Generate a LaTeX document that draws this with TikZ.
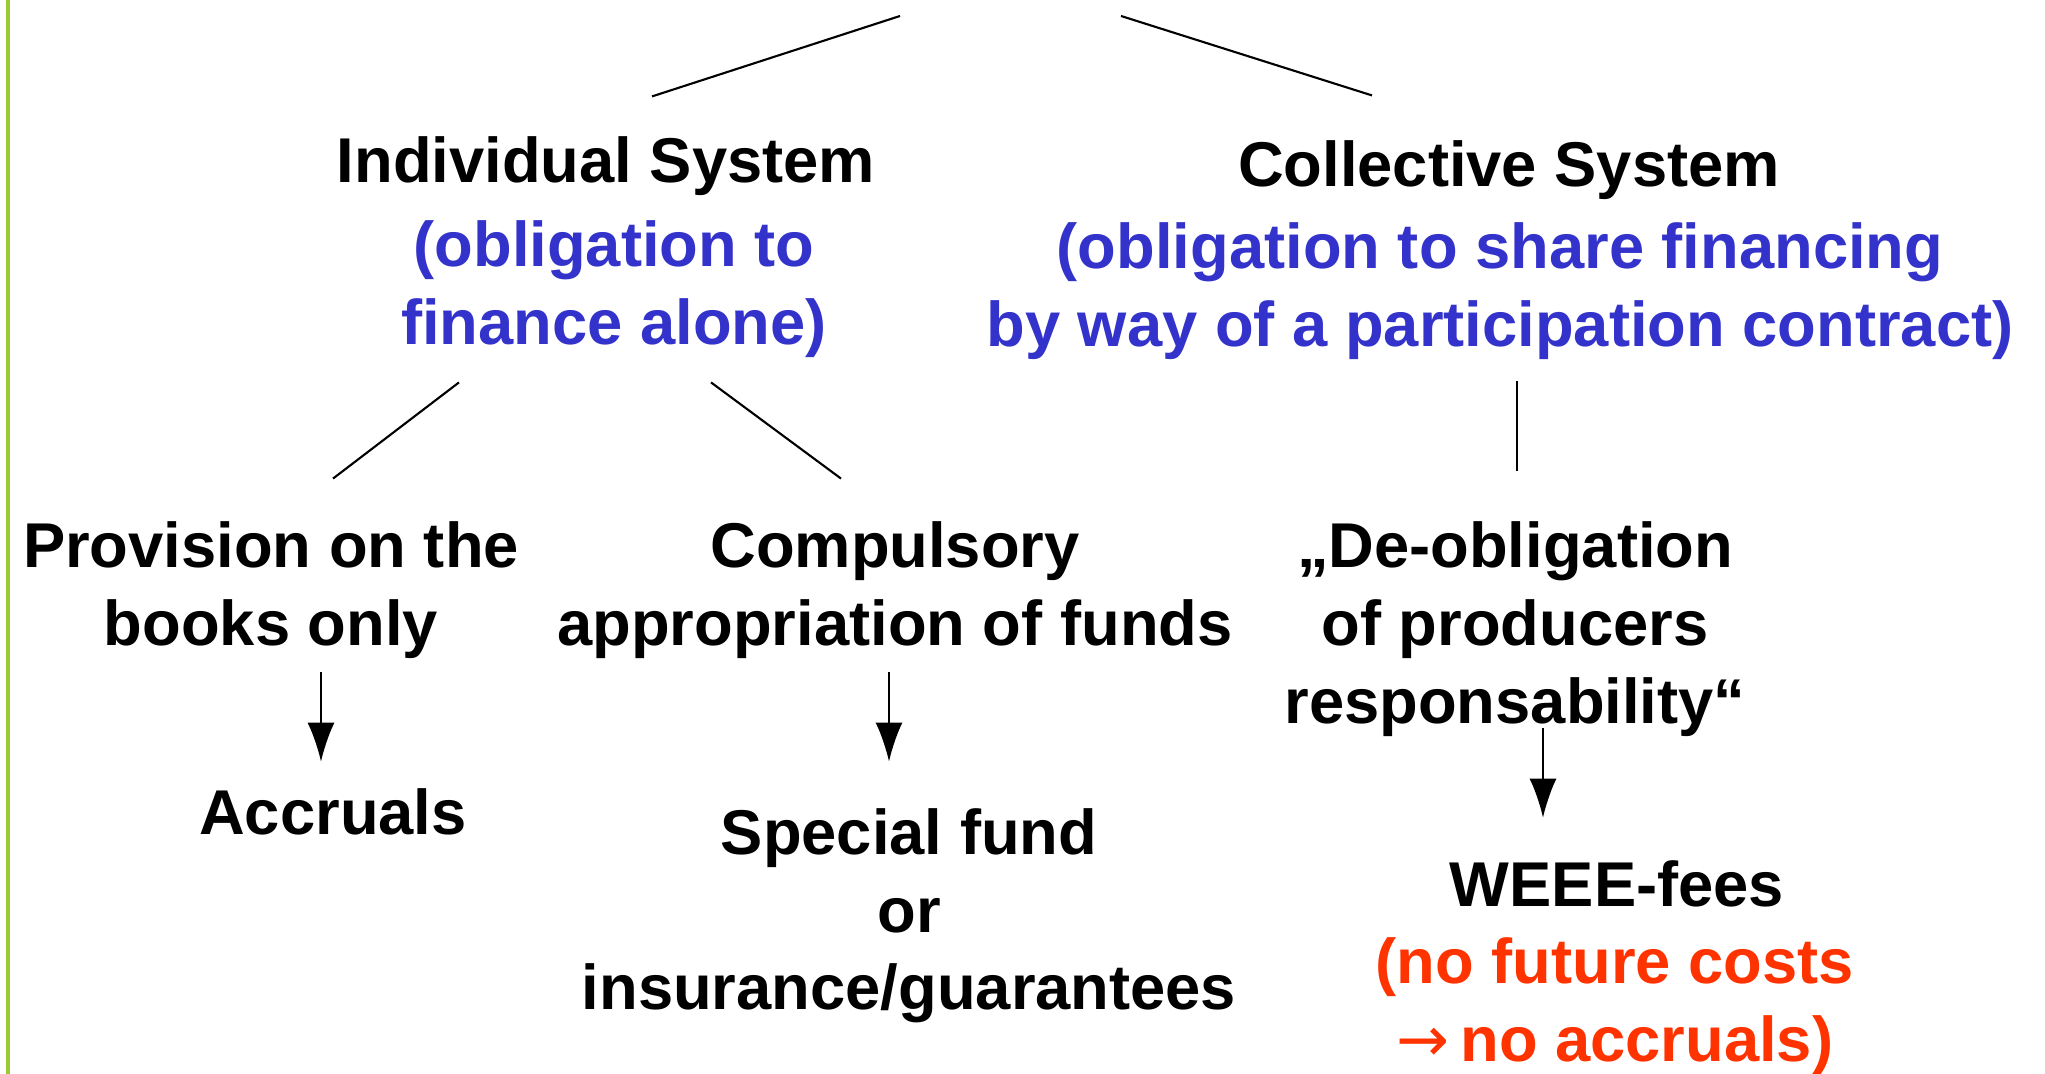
\documentclass[tikz,border=0pt]{standalone}
\usepackage{fontspec}
\setmainfont{Liberation Sans}
\newfontfamily\arrowfont{DejaVu Sans}
\usetikzlibrary{calc,arrows.meta}
\definecolor{noteblue}{RGB}{51,51,204}
\definecolor{notered}{RGB}{255,51,0}
\definecolor{barcolor}{RGB}{153,204,51}

\begin{document}
\begin{tikzpicture}[x = .01cm, y = -.01cm, line width = .6pt]
		\tikzstyle{every node} = [font = {\fontsize{18}{22.1}\selectfont\bfseries}, inner sep = 0, align = center]
		\tikzstyle{blue note} = [text = noteblue]
		\tikzstyle{red note} = [text = notered]
		\tikzstyle{arr} = [-{Latex[length = .39cm, width = .27cm]}]
		\useasboundingbox (0,0) rectangle (2045,1074);
		\draw [barcolor, line width = .035cm] (8,0) -- (8,1074);

		% the two systems
		\node (indiv) at (606,166) {Individual System};
		\node [blue note] (indivnote) at (614,289) {(obligation to\\finance alone)};
		\node (coll) at (1509,170) {Collective System};
		\node [blue note] (collnote) at (1500,291) {(obligation to share financing\\by way of a participation contract)};

		% ways of financing
		\node (prov) at (271,590) {Provision on the\\books only};
		\node (comp) at (895,590) {Compulsory\\appropriation of funds};
		\node (deob) at (1515,629) {„De-obligation\\of producers\\responsability“};

		% results
		\node (accr) at (333,812) {Accruals};
		\node (spec) at (909,916) {Special fund\\or\\insurance/guarantees};
		\node (weee) at (1617,884) {WEEE-fees};
		\node [red note] (weeenote) at (1615,1006) {(no future costs\\{\arrowfont\mdseries\fontsize{18}{18}\selectfont →}\,no accruals)};

		% branches
		\coordinate (topL) at (900,16);
		\coordinate (topR) at (1121,16);
		\draw (topL) -- ($(indiv.north)+(46,-39)$); %top to individual
		\draw (topR) -- ($(coll.north)+(-137,-44)$); %top to collective
		\draw ($(indivnote.south)+(-155,24)$) -- ($(prov.north)+(62,-42)$);
		\draw ($(indivnote.south)+(97,24)$) -- ($(comp.north)+(-54,-42)$);
		\draw ($(collnote.south)+(17,21)$) -- ($(deob.north)+(2,-50)$);

		\draw [arr] ($(prov.south)+(50,13)$) -- ($(accr.north)+(-12,-26)$);
		\draw [arr] ($(comp.south)+(-6,13)$) -- ($(spec.north)+(-20,-46)$);
		\draw [arr] ($(deob.south)+(28,-9)$) -- ($(weee.north)+(-74,-42)$);
	\end{tikzpicture}
\end{document}
